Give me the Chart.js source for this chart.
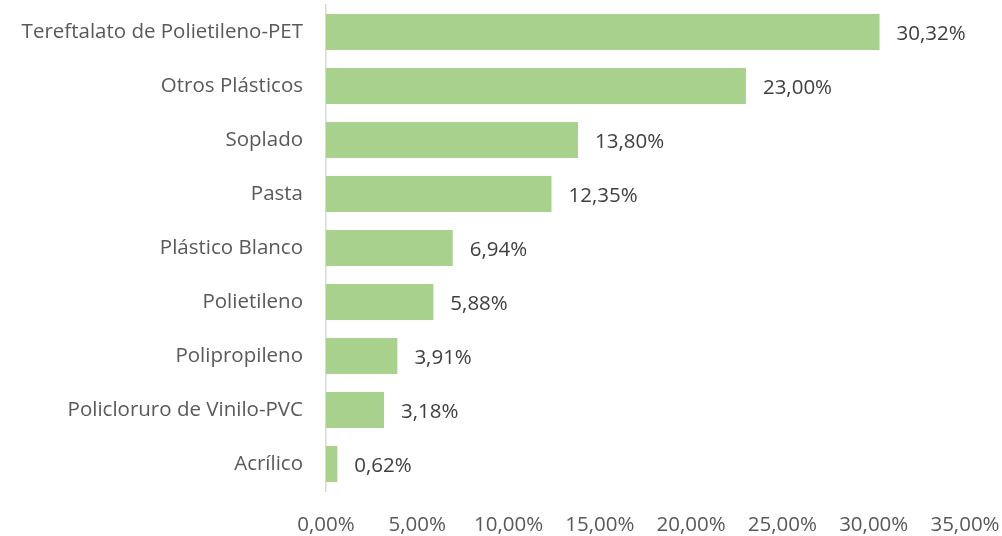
<!DOCTYPE html>
<html>
<head>
<meta charset="utf-8">
<script src="https://cdn.jsdelivr.net/npm/chart.js@4"></script>
<style>
html,body{margin:0;padding:0;background:#fff;}
#wrap{width:1002px;height:536px;position:relative;}
canvas{display:block;}
</style>
</head>
<body>
<div id="wrap"><canvas id="c" width="1002" height="536"></canvas></div>
<script>
const categories = ["Tereftalato de Polietileno-PET","Otros Plásticos","Soplado","Pasta","Plástico Blanco","Polietileno","Polipropileno","Policloruro de Vinilo-PVC","Acrílico"];
const values = [30.32, 23.00, 13.80, 12.35, 6.94, 5.88, 3.91, 3.18, 0.62];
const xTicks = [0, 5, 10, 15, 20, 25, 30, 35];

const FONT = "'Open Sans'";
const FSIZE = 20.5;
const fmt = v => v.toFixed(2).replace('.', ',') + '%';

const labelPlugin = {
  id: 'barLabels',
  afterDatasetsDraw(chart) {
    const ctx = chart.ctx;
    const meta = chart.getDatasetMeta(0);
    ctx.save();
    ctx.font = FSIZE + 'px ' + FONT;
    ctx.fillStyle = '#404040';
    ctx.textAlign = 'left';
    ctx.textBaseline = 'middle';
    meta.data.forEach((bar, i) => {
      ctx.fillText(fmt(values[i]), bar.x + 17, bar.y + 2);
    });
    ctx.restore();
  }
};

new Chart(document.getElementById('c'), {
  type: 'bar',
  data: {
    labels: categories,
    datasets: [{
      data: values,
      backgroundColor: '#A9D18E',
      borderWidth: 0,
      categoryPercentage: 0.667,
      barPercentage: 1
    }]
  },
  options: {
    indexAxis: 'y',
    responsive: false,
    animation: false,
    devicePixelRatio: 1,
    layout: { padding: { top: 5, right: 37, left: 0, bottom: 0 } },
    plugins: { legend: { display: false }, tooltip: { enabled: false } },
    scales: {
      x: {
        min: 0, max: 35,
        afterBuildTicks(scale) { scale.ticks = xTicks.map(v => ({ value: v })); },
        afterFit(scale) { scale.height = 45; scale.paddingLeft = 0; scale.paddingRight = 0; },
        grid: { display: false },
        border: { display: false },
        ticks: {
          padding: 14,
          color: '#595959',
          font: { family: FONT, size: FSIZE },
          callback: v => fmt(v),
          maxRotation: 0, autoSkip: false
        }
      },
      y: {
        afterFit(scale) { scale.width = 326; scale.paddingTop = 0; scale.paddingBottom = 0; },
        grid: { display: false },
        border: { display: true, color: '#D9D9D9', width: 1.5 },
        ticks: {
          padding: 15,
          color: '#595959',
          font: { family: FONT, size: FSIZE },
          autoSkip: false
        }
      }
    }
  },
  plugins: [labelPlugin]
});
</script>
</body>
</html>
